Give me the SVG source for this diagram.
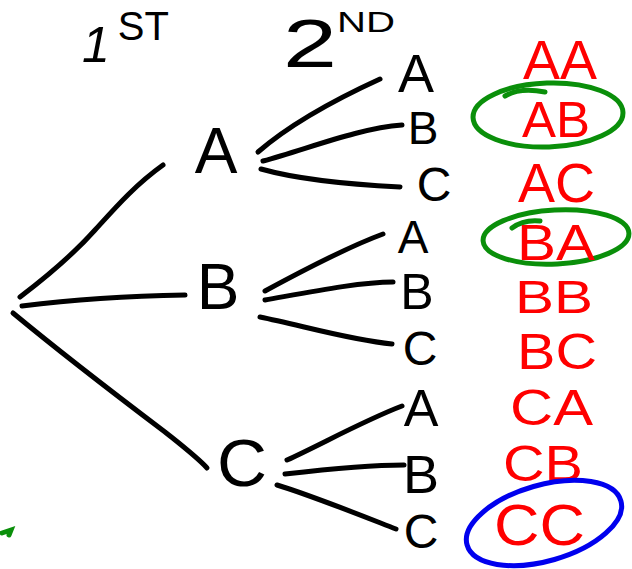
<svg xmlns="http://www.w3.org/2000/svg" width="632" height="569" viewBox="0 0 632 569">
  <style>
    .ink { fill: none; stroke: #000; stroke-width: 5; stroke-linecap: round; stroke-linejoin: round; }
    .lbl { font-family: "Liberation Sans", Arial, sans-serif; fill: #000; text-anchor: middle; }
    .hd { font-family: "Liberation Sans", Arial, sans-serif; fill: #000; }
    .out { font-family: "Liberation Sans", Arial, sans-serif; fill: #ff0000; }
    .ring-g { fill: none; stroke: #0a8f0a; stroke-width: 5; stroke-linecap: round; }
    .ring-b { fill: none; stroke: #0000ee; stroke-width: 5; stroke-linecap: round; }
  </style>
  <rect width="632" height="569" fill="#fff"/>

  <!-- column headings -->
  <g id="heading-1st">
    <text class="hd" x="82" y="62" font-size="50"><tspan font-style="italic">1</tspan><tspan font-size="40" dx="8" dy="-22">ST</tspan></text>
  </g>
  <g id="heading-2nd">
    <text class="hd" x="283" y="67" font-size="68" textLength="54" lengthAdjust="spacingAndGlyphs">2</text>
    <text class="hd" x="337" y="32" font-size="30" textLength="58" lengthAdjust="spacingAndGlyphs">ND</text>
  </g>

  <!-- branches -->
  <g id="connectors">
    <path class="ink" d="M20,297 C45,278 70,258 95,230 C115,208 135,185 163,165"/>
    <path class="ink" d="M22,306 C70,300 130,296 185,295"/>
    <path class="ink" d="M13,313 C60,352 120,398 165,432 C185,448 198,458 207,468"/>

    <path class="ink" d="M258,152 C295,120 345,95 380,79"/>
    <path class="ink" d="M263,161 C310,148 360,128 402,125"/>
    <path class="ink" d="M261,169 C300,180 360,185 400,187"/>

    <path class="ink" d="M265,291 C300,272 345,248 383,234"/>
    <path class="ink" d="M265,300 C310,292 360,282 393,282"/>
    <path class="ink" d="M260,317 C300,325 350,340 392,344"/>

    <path class="ink" d="M287,460 C320,445 365,420 402,406"/>
    <path class="ink" d="M285,474 C320,470 370,465 404,465"/>
    <path class="ink" d="M277,485 C310,495 360,515 396,529"/>
  </g>

  <!-- first pick -->
  <g id="first-A"><text class="lbl" x="216" y="173" font-size="64">A</text></g>
  <g id="first-B"><text class="lbl" x="218" y="309" font-size="64">B</text></g>
  <g id="first-C"><text class="lbl" x="242" y="486" font-size="66" textLength="50" lengthAdjust="spacingAndGlyphs">C</text></g>

  <!-- second pick -->
  <g id="second-AA"><text class="lbl" x="416" y="92" font-size="54">A</text></g>
  <g id="second-AB"><text class="lbl" x="423" y="144" font-size="46">B</text></g>
  <g id="second-AC"><text class="lbl" x="434" y="201" font-size="48">C</text></g>
  <g id="second-BA"><text class="lbl" x="413" y="253" font-size="46">A</text></g>
  <g id="second-BB"><text class="lbl" x="417" y="309" font-size="50">B</text></g>
  <g id="second-BC"><text class="lbl" x="420" y="365" font-size="48">C</text></g>
  <g id="second-CA"><text class="lbl" x="421" y="426" font-size="52">A</text></g>
  <g id="second-CB"><text class="lbl" x="421" y="493" font-size="54">B</text></g>
  <g id="second-CC"><text class="lbl" x="421" y="548" font-size="48">C</text></g>

  <!-- outcomes -->
  <g id="outcome-AA"><text class="out" x="523" y="79" font-size="56" textLength="74" lengthAdjust="spacingAndGlyphs">AA</text></g>
  <g id="outcome-AB">
    <ellipse class="ring-g" cx="548" cy="115" rx="75" ry="32" transform="rotate(-2 548 115)"/>
    <path class="ring-g" d="M505,96 C515,90 530,89 545,92"/>
    <text class="out" x="522" y="137" font-size="50" textLength="68" lengthAdjust="spacingAndGlyphs">AB</text>
  </g>
  <g id="outcome-AC"><text class="out" x="518" y="202" font-size="56" textLength="77" lengthAdjust="spacingAndGlyphs">AC</text></g>
  <g id="outcome-BA">
    <ellipse class="ring-g" cx="556" cy="237" rx="73" ry="27" transform="rotate(-3 556 237)"/>
    <path class="ring-g" d="M512,228 C520,222 530,220 540,221"/>
    <text class="out" x="517" y="260" font-size="50" textLength="78" lengthAdjust="spacingAndGlyphs">BA</text>
  </g>
  <g id="outcome-BB"><text class="out" x="515" y="313" font-size="46" textLength="78" lengthAdjust="spacingAndGlyphs">BB</text></g>
  <g id="outcome-BC"><text class="out" x="517" y="369" font-size="50" textLength="80" lengthAdjust="spacingAndGlyphs">BC</text></g>
  <g id="outcome-CA"><text class="out" x="510" y="425" font-size="50" textLength="83" lengthAdjust="spacingAndGlyphs">CA</text></g>
  <g id="outcome-CB"><text class="out" x="503" y="481" font-size="50" textLength="80" lengthAdjust="spacingAndGlyphs">CB</text></g>
  <g id="outcome-CC">
    <ellipse class="ring-b" cx="544" cy="523" rx="80" ry="38" transform="rotate(-16 544 523)"/>
    <text class="out" x="494" y="545" font-size="58" textLength="91" lengthAdjust="spacingAndGlyphs">CC</text>
  </g>

  <!-- stray pen mark -->
  <path class="ring-g" d="M2,533 L11,530 L9,535"/>
</svg>
